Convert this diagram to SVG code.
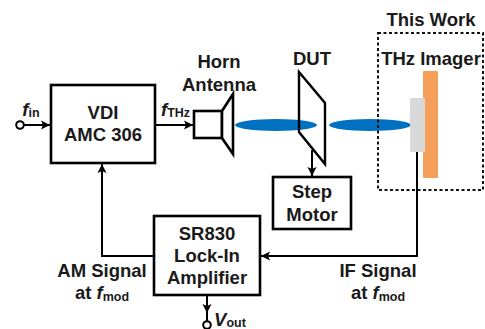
<svg xmlns="http://www.w3.org/2000/svg" width="485" height="329" viewBox="0 0 485 329">
<style>
text{font-family:"Liberation Sans",Arial,sans-serif;font-weight:bold;font-size:18.5px;fill:#1a1a1a;text-anchor:middle}
.i{font-style:italic}
.s{font-size:12.5px}
.box{fill:#fff;stroke:#000;stroke-width:2.6}
.ln{fill:none;stroke:#000;stroke-width:2}
.bl{fill:#0070c0}
</style>
<defs>
<marker id="a" markerUnits="userSpaceOnUse" markerWidth="10" markerHeight="10" refX="9" refY="5" orient="auto"><path d="M0 0.5L9 5L0 9.5L2 5Z" fill="#000"/></marker>
</defs>
<g id="beams">
<ellipse class="bl" cx="276" cy="125" rx="41" ry="6"/>
</g>
<g id="dut"><polygon points="299,72 325,103 325,164 299,132" fill="none" stroke="#000" stroke-width="2.4"/><text x="312" y="65">DUT</text></g>
<g id="beam2"><ellipse class="bl" cx="370" cy="125" rx="41" ry="6"/></g>
<g id="work">
<rect x="378" y="33" width="105" height="157" fill="none" stroke="#111" stroke-width="2" stroke-dasharray="3 2.5"/>
<text x="431" y="26">This Work</text>
<text x="431" y="65">THz Imager</text>
<rect x="423" y="71" width="15" height="107" rx="1" fill="#f4a05a"/>
<rect x="410" y="98" width="15" height="54" rx="1" fill="#d9d9d9"/>
</g>
<g id="connectors">
<path class="ln" d="M24 125H50" marker-end="url(#a)"/>
<path class="ln" d="M156 125H193" marker-end="url(#a)"/>
<path class="ln" d="M312 150V176" marker-end="url(#a)"/>
<path class="ln" d="M417 152V256H261" marker-end="url(#a)"/>
<path class="ln" d="M154 256H102V164" marker-end="url(#a)"/>
<path class="ln" d="M207 296V313" marker-end="url(#a)"/>
<path class="ln" d="M207 313V321"/>
<circle cx="20" cy="125" r="3.8" fill="#fff" stroke="#000" stroke-width="2"/>
<circle cx="207" cy="325" r="3.8" fill="#fff" stroke="#000" stroke-width="2"/>
</g>
<g id="fin"><text x="31" y="116"><tspan class="i">f</tspan><tspan class="s" dy="1">in</tspan></text></g>
<g id="vdi"><rect class="box" x="51" y="85" width="104" height="78"/><text x="103" y="119">VDI</text><text x="103" y="141">AMC 306</text></g>
<g id="fthz"><text x="175.5" y="116"><tspan class="i">f</tspan><tspan class="s" dy="1">THz</tspan></text></g>
<g id="horn">
<rect class="box" x="194" y="111" width="28" height="27"/>
<polygon class="box" points="222,111 233,94 233,154 222,138"/>
<text x="219" y="68">Horn</text><text x="219" y="91">Antenna</text>
</g>
<g id="step"><rect class="box" x="273" y="177" width="78" height="52"/><text x="312" y="198">Step</text><text x="312" y="221">Motor</text></g>
<g id="lockin"><rect class="box" x="154" y="216" width="106" height="79"/><text x="207" y="240">SR830</text><text x="207" y="262">Lock-In</text><text x="207" y="284">Amplifier</text></g>
<g id="am"><text x="102" y="277">AM Signal</text><text x="102" y="299">at <tspan class="i">f</tspan><tspan class="s" dy="2">mod</tspan></text></g>
<g id="if"><text x="378" y="277">IF Signal</text><text x="378" y="299">at <tspan class="i">f</tspan><tspan class="s" dy="2">mod</tspan></text></g>
<g id="vout"><text x="230" y="326"><tspan class="i">V</tspan><tspan class="s" dy="1">out</tspan></text></g>
</svg>
